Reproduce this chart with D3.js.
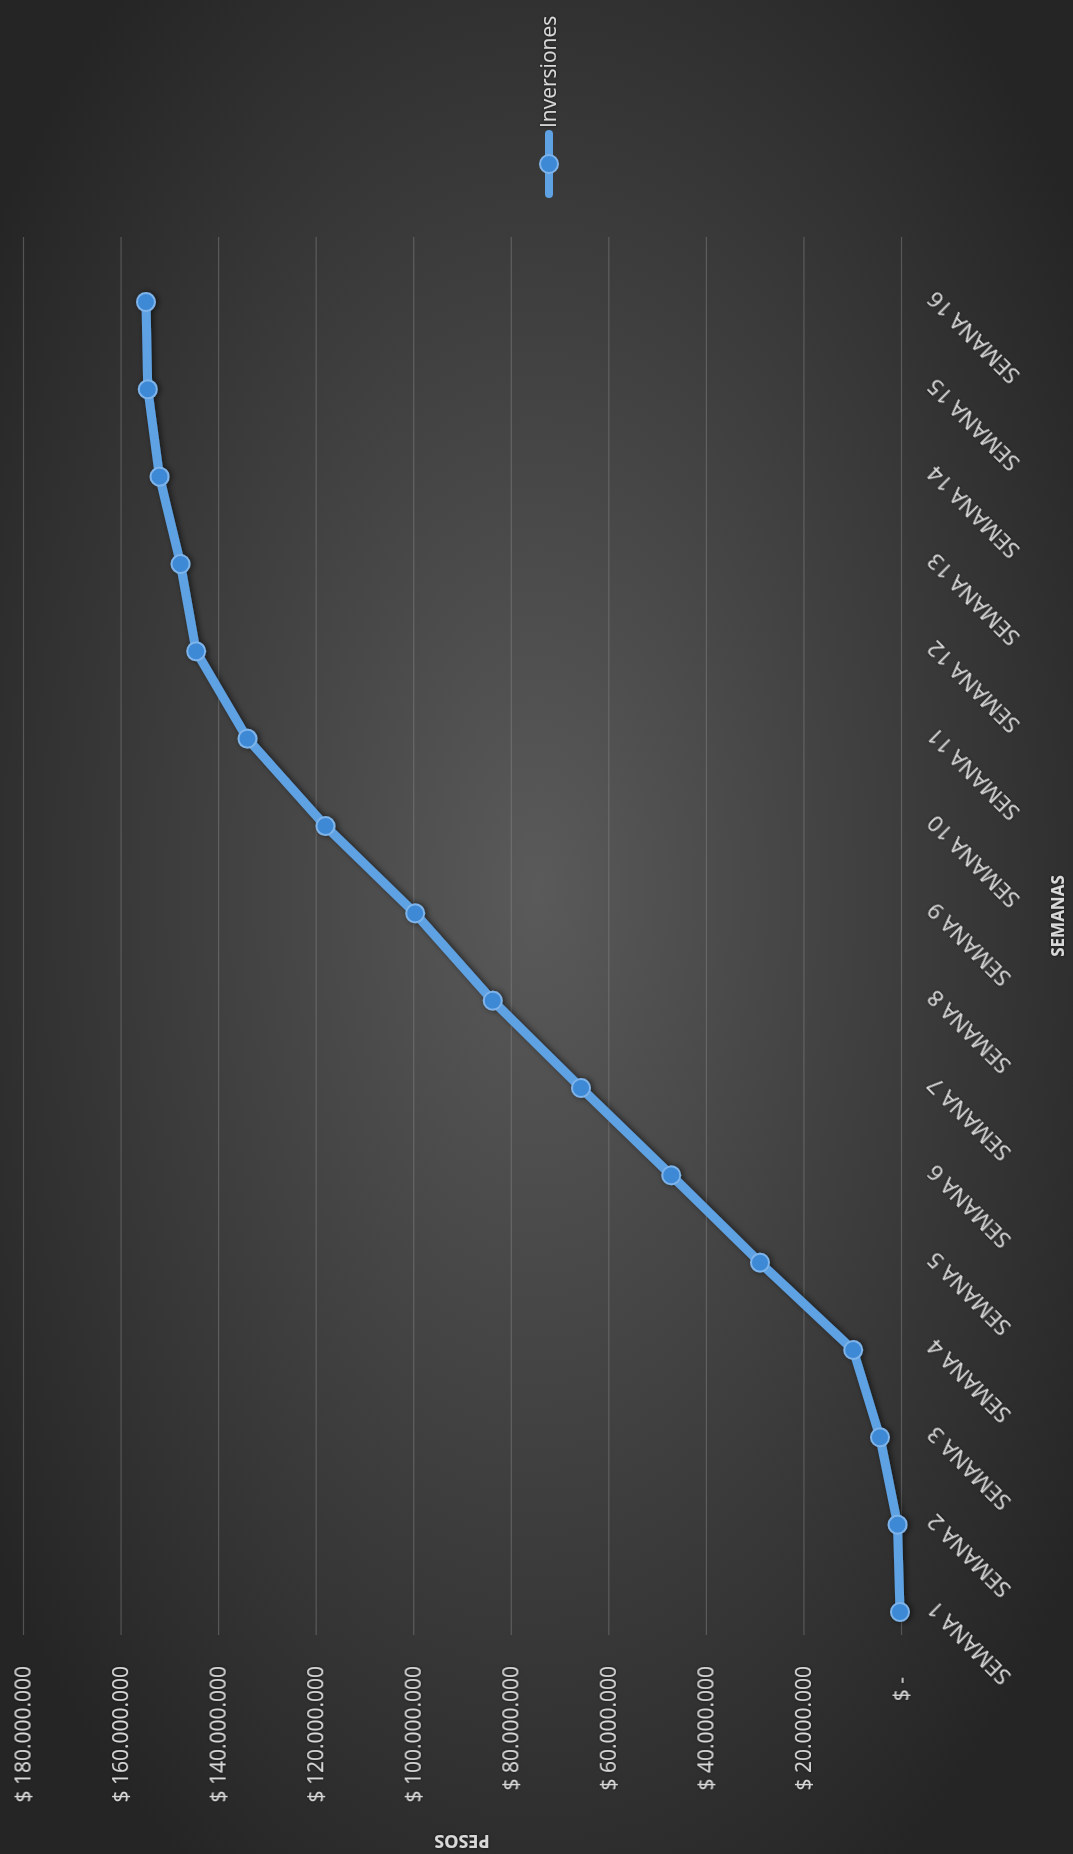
<!DOCTYPE html>
<html>
  <head>
    <meta charset="utf-8" />
    <title>Inversiones por semana</title>
    <script src="https://d3js.org/d3.v7.min.js"></script>
    <style>
      body {
        margin: 0;
        background: #2b2b2b;
      }
      text {
        font-family: "Open Sans", "Noto Sans", sans-serif;
      }
    </style>
  </head>
  <body>

    <svg id="chart"></svg>

    <script>

      var categories = ["SEMANA 1", "SEMANA 2", "SEMANA 3", "SEMANA 4", "SEMANA 5", "SEMANA 6",
        "SEMANA 7", "SEMANA 8", "SEMANA 9", "SEMANA 10", "SEMANA 11", "SEMANA 12",
        "SEMANA 13", "SEMANA 14", "SEMANA 15", "SEMANA 16"];
      var inversiones = [200000, 700000, 4300000, 9800000, 28900000, 47100000,
        65600000, 83700000, 99600000, 118000000, 134000000, 144500000,
        147700000, 152000000, 154400000, 154800000];
      var yTicks = [0, 20000000, 40000000, 60000000, 80000000, 100000000,
        120000000, 140000000, 160000000, 180000000];
      var seriesName = "Inversiones";
      var xTitle = "SEMANAS";
      var yTitle = "PESOS";

      var width = 1073;
      var height = 1854;

      // the chart is drawn in its own frame and then turned 90deg counter-clockwise
      var plot = { left: 219, right: 1617, top: 23, bottom: 901 };

      var es = d3.formatLocale({ decimal: ",", thousands: ".", grouping: [3], currency: ["$", ""] });
      var fmt = es.format(",.0f");

      var svg = d3.select("#chart")
        .attr("width", width)
        .attr("height", height);

      var defs = svg.append("defs");
      var grad = defs.append("radialGradient")
        .attr("id", "bg")
        .attr("cx", "50%").attr("cy", "48%").attr("r", "62%");
      grad.append("stop").attr("offset", "0%").attr("stop-color", "#5a5a5a");
      grad.append("stop").attr("offset", "100%").attr("stop-color", "#252525");

      var shadow = defs.append("filter").attr("id", "shadow")
        .attr("x", "-20%").attr("y", "-20%").attr("width", "140%").attr("height", "140%");
      shadow.append("feDropShadow")
        .attr("dx", 0).attr("dy", 2).attr("stdDeviation", 3)
        .attr("flood-color", "#000").attr("flood-opacity", 0.6);

      var glow = defs.append("filter").attr("id", "glow");
      glow.append("feDropShadow")
        .attr("dx", 0).attr("dy", 0).attr("stdDeviation", 1.5)
        .attr("flood-color", "#000").attr("flood-opacity", 0.7);

      svg.append("rect")
        .attr("width", width)
        .attr("height", height)
        .attr("fill", "url(#bg)");

      var g = svg.append("g")
        .attr("transform", "translate(0," + height + ") rotate(-90)");

      var x = d3.scalePoint()
        .domain(categories)
        .range([242, 1552]);

      var y = d3.scaleLinear()
        .domain([0, 180000000])
        .range([plot.bottom, plot.top]);

      // value axis + gridlines
      var yAxis = d3.axisLeft(y)
        .tickValues(yTicks)
        .tickSize(-(plot.right - plot.left))
        .tickPadding(31)
        .tickFormat(function(d) {
          return d === 0 ? "$ -" : "$ " + fmt(d);
        });

      var yG = g.append("g")
        .attr("transform", "translate(" + plot.left + ",0)")
        .call(yAxis);
      yG.select(".domain").remove();
      yG.selectAll(".tick line")
        .attr("stroke", "#8a8a8a")
        .attr("stroke-opacity", 0.45)
        .attr("stroke-width", 1.2);
      yG.selectAll(".tick text")
        .attr("fill", "#d9d9d9")
        .attr("font-size", 21)
        .attr("filter", "url(#glow)")
        .attr("dx", function(d) { return d === 0 ? -11 : 0; });

      // category axis labels
      var xG = g.append("g")
        .attr("transform", "translate(0," + plot.bottom + ")")
        .call(d3.axisBottom(x).tickSize(0).tickPadding(0));
      xG.select(".domain").remove();
      xG.selectAll(".tick text")
        .attr("fill", "#d9d9d9")
        .attr("font-size", 22)
        .attr("filter", "url(#glow)")
        .attr("text-anchor", "end")
        .attr("dy", "0.35em")
        .attr("transform", "translate(6,30) rotate(-45)");

      // axis titles
      g.append("text")
        .attr("x", (plot.left + plot.right) / 2 + 20)
        .attr("y", 1064)
        .attr("text-anchor", "middle")
        .attr("font-size", 17)
        .attr("font-weight", "bold")
        .attr("fill", "#d9d9d9")
        .attr("filter", "url(#glow)")
        .text(xTitle);

      g.append("text")
        .attr("transform", "translate(19," + ((plot.top + plot.bottom) / 2) + ") rotate(-90)")
        .attr("text-anchor", "middle")
        .attr("font-size", 18)
        .attr("font-weight", "bold")
        .attr("fill", "#d9d9d9")
        .attr("filter", "url(#glow)")
        .text(yTitle);

      // series line
      var line = d3.line()
        .x(function(d, i) { return x(categories[i]); })
        .y(function(d) { return y(d); });

      var series = g.append("g").attr("filter", "url(#shadow)");

      series.append("path")
        .datum(inversiones)
        .attr("d", line)
        .attr("fill", "none")
        .attr("stroke", "#5fa2e3")
        .attr("stroke-width", 9)
        .attr("stroke-linejoin", "round")
        .attr("stroke-linecap", "round");

      series.selectAll(".dot")
        .data(inversiones)
        .enter().append("circle")
        .attr("class", "dot")
        .attr("cx", function(d, i) { return x(categories[i]); })
        .attr("cy", function(d) { return y(d); })
        .attr("r", 9)
        .attr("fill", "#3d89d6")
        .attr("stroke", "#7fb4ea")
        .attr("stroke-width", 2);

      // legend
      var legend = g.append("g")
        .attr("transform", "translate(1660,549)");
      legend.append("line")
        .attr("x1", 0).attr("x2", 60)
        .attr("stroke", "#5fa2e3")
        .attr("stroke-width", 8)
        .attr("stroke-linecap", "round");
      legend.append("circle")
        .attr("cx", 30)
        .attr("r", 9)
        .attr("fill", "#3d89d6")
        .attr("stroke", "#7fb4ea")
        .attr("stroke-width", 2);
      legend.append("text")
        .attr("x", 66)
        .attr("dy", "0.35em")
        .attr("font-size", 21)
        .attr("fill", "#d9d9d9")
        .attr("filter", "url(#glow)")
        .text(seriesName);

    </script>
  </body>
</html>
